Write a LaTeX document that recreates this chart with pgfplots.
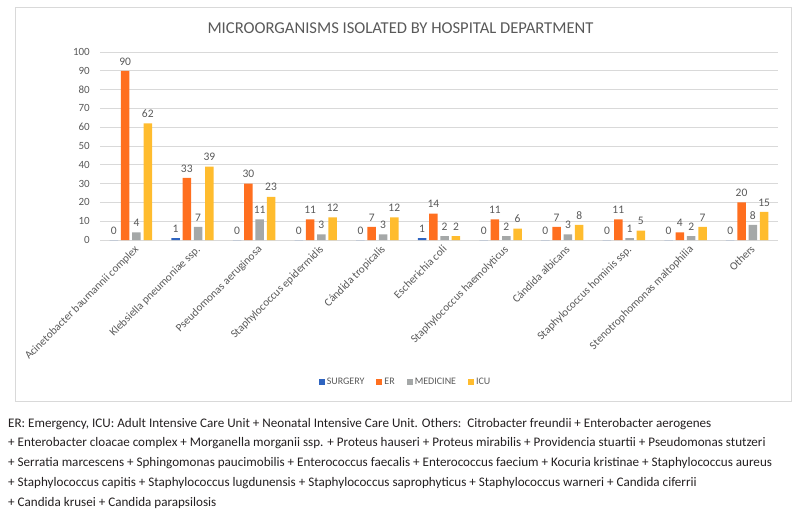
\documentclass[border=0pt]{standalone}
\usepackage{pgfplots}
\pgfplotsset{compat=1.18}
\usepackage{fontspec}
\setmainfont{Carlito}
\definecolor{surg}{HTML}{2F64C0}
\definecolor{er}{HTML}{FF6F1F}
\definecolor{med}{HTML}{A5A8A8}
\definecolor{icu}{HTML}{FFBC2E}
\definecolor{txt}{HTML}{595959}
\definecolor{gridc}{HTML}{D9D9D9}
\definecolor{captxt}{HTML}{231F20}
\begin{document}
\begin{tikzpicture}[x=1pt,y=1pt]
\path[use as bounding box] (0,0) rectangle (805,-514);
\draw[gridc, line width=0.8pt] (15,-7) rectangle (791,-401);
\node[txt, font=\fontsize{16.6}{19}\selectfont] at (400.5,-28) {MICROORGANISMS ISOLATED BY HOSPITAL DEPARTMENT};
\begin{axis}[at={(100pt,-240pt)}, anchor=south west, scale only axis,
  width=678pt, height=188pt,
  ymin=0, ymax=100, xmin=-0.5, xmax=10.5,
  ytick={0,10,...,100},
  xtick={0,...,10},
  xticklabels={Acinetobacter baumannii complex, Klebsiella pneumoniae ssp., Pseudomonas aeruginosa, Staphylococcus epidermidis, Cándida tropicalis, Escherichia coli, Staphylococcus haemolyticus, Cándida albicans, Staphylococcus hominis ssp., Stenotrophomonas maltophilia, Others},
  ybar=2.8pt, bar width=8.5pt,
  axis lines*=left, axis line style={draw=none},
  ymajorgrids, grid style={gridc, line width=0.8pt},
  major tick length=0pt,
  /pgf/number format/assume math mode=true,
  yticklabel style={txt, font=\fontsize{11}{13}\selectfont, inner sep=1pt, xshift=-9pt},
  xticklabel style={txt, font=\fontsize{11.2}{13}\selectfont, rotate=45, anchor=north east, inner sep=1pt, yshift=-4pt},
  nodes near coords,
  every node near coord/.append style={txt, font=\fontsize{11.5}{13}\selectfont, inner sep=2pt, yshift=3.5pt},
  legend columns=4,
  legend style={at={(0.4507,-0.755)}, anchor=center, draw=none, fill=none,
    font=\fontsize{10}{12}\selectfont, text=txt,
    /tikz/every even column/.append style={column sep=10pt}},
  legend image code/.code={\fill[#1] (0pt,-3pt) rectangle (6pt,3pt);},
]
\addplot[fill=surg, draw=none] coordinates {(0,0) (1,1) (2,0) (3,0) (4,0) (5,1) (6,0) (7,0) (8,0) (9,0) (10,0)};
\addplot[fill=er, draw=none] coordinates {(0,90) (1,33) (2,30) (3,11) (4,7) (5,14) (6,11) (7,7) (8,11) (9,4) (10,20)};
\addplot[fill=med, draw=none] coordinates {(0,4) (1,7) (2,11) (3,3) (4,3) (5,2) (6,2) (7,3) (8,1) (9,2) (10,8)};
\addplot[fill=icu, draw=none] coordinates {(0,62) (1,39) (2,23) (3,12) (4,12) (5,2) (6,6) (7,8) (8,5) (9,7) (10,15)};
\legend{SURGERY, ER, MEDICINE, ICU}
\end{axis}
\begin{scope}[every node/.style={anchor=west, text=captxt, font=\fontsize{13.1}{15}\selectfont, inner sep=0pt}]
\node at (8,-424) {ER: Emergency, ICU: Adult Intensive Care Unit + Neonatal Intensive Care Unit. Others:\ \ Citrobacter freundii + Enterobacter aerogenes};
\node at (8,-443.5) {+ Enterobacter cloacae complex + Morganella morganii ssp. + Proteus hauseri + Proteus mirabilis + Providencia stuartii + Pseudomonas stutzeri};
\node at (8,-463.5) {+ Serratia marcescens + Sphingomonas paucimobilis + Enterococcus faecalis + Enterococcus faecium + Kocuria kristinae + Staphylococcus aureus};
\node at (8,-483.5) {+ Staphylococcus capitis + Staphylococcus lugdunensis + Staphylococcus saprophyticus + Staphylococcus warneri + Candida ciferrii};
\node at (8,-503) {+ Candida krusei + Candida parapsilosis};
\end{scope}
\end{tikzpicture}
\end{document}
